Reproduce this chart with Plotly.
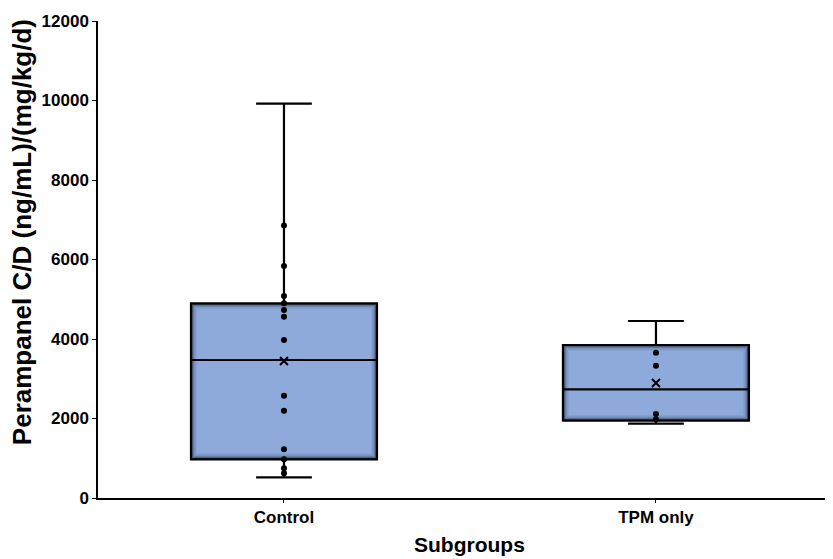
import plotly.graph_objects as go

# ---- data ----
groups = ["Control", "TPM only"]
q1 = [973, 1945]
median = [3472, 2734]
q3 = [4898, 3849]
lower_whisker = [520, 1869]
upper_whisker = [9920, 4453]
means = [3447, 2893]

control_points = [6855, 5836, 5082, 4898, 4730, 4562, 3975, 2574, 2197, 1225, 973, 747, 621]
tpm_points = [3655, 3328, 2113, 1980]

y_ticks = [0, 2000, 4000, 6000, 8000, 10000, 12000]

FONT = "Liberation Sans, Arial, sans-serif"
Y_MAX = 12000
X_RANGE = [-0.5, 1.476]
PLOT_H = 477
PLOT_W = 735
BOX_W = 0.5

fig = go.Figure()

# inner-shadow effect: stacked fills, inset pixel by pixel
dy = Y_MAX / PLOT_H
dx = (X_RANGE[1] - X_RANGE[0]) / PLOT_W
shade = ["#2c3547", "#4a5b78", "#637b9f", "#7690bb", "#8299c7", "#889fd0", "#8eaadb"]
for k, col in enumerate(shade):
    inset = k * 1.0
    fig.add_trace(go.Box(
        x=groups,
        q1=[v + inset * dy for v in q1],
        q3=[v - inset * dy for v in q3],
        median=median,
        lowerfence=[v + inset * dy for v in q1],
        upperfence=[v - inset * dy for v in q3],
        boxpoints=False,
        fillcolor=col,
        line=dict(color="rgba(0,0,0,0)", width=0),
        width=BOX_W - 2 * inset * dx,
        whiskerwidth=0,
        showlegend=False,
        hoverinfo="skip",
    ))

fig.add_trace(go.Box(
    x=groups,
    q1=q1, median=median, q3=q3,
    lowerfence=lower_whisker, upperfence=upper_whisker,
    boxpoints=False,
    fillcolor="rgba(0,0,0,0)",
    line=dict(color="black", width=2.2),
    width=BOX_W,
    whiskerwidth=0.3,
    showlegend=False,
    hoverinfo="skip",
))

fig.add_trace(go.Scatter(
    x=[groups[0]] * len(control_points) + [groups[1]] * len(tpm_points),
    y=control_points + tpm_points,
    mode="markers",
    marker=dict(color="black", size=6),
    showlegend=False,
))

fig.add_trace(go.Scatter(
    x=groups, y=means,
    mode="markers",
    marker=dict(color="black", size=8, symbol="x-thin", line=dict(color="black", width=2)),
    showlegend=False,
))

fig.update_layout(
    width=825, height=551,
    margin=dict(l=90, r=0, t=13, b=61),
    plot_bgcolor="white", paper_bgcolor="white",
    font=dict(family=FONT, color="black"),
    boxmode="overlay",
    xaxis=dict(
        type="category", range=X_RANGE, automargin=False,
        showline=True, linecolor="black", linewidth=1.5,
        ticks="outside", ticklen=3, tickcolor="black",
        tickfont=dict(size=17, family=FONT, weight="bold"),
        showgrid=False, zeroline=False,
    ),
    yaxis=dict(
        range=[0, Y_MAX], tickvals=y_ticks, tickformat="d", automargin=False,
        showline=True, linecolor="black", linewidth=1.5,
        ticks="outside", ticklen=4, tickcolor="black",
        tickfont=dict(size=17, family=FONT, weight="bold"),
        showgrid=False, zeroline=False,
    ),
    annotations=[
        dict(text="Perampanel C/D (ng/mL)/(mg/kg/d)", textangle=-90,
             xref="paper", yref="paper", x=-0.103, y=0.558,
             xanchor="center", yanchor="middle", showarrow=False,
             font=dict(size=26, family=FONT, weight="bold")),
        dict(text="Subgroups",
             xref="paper", yref="paper", x=0.506, y=-0.097,
             xanchor="center", yanchor="middle", showarrow=False,
             font=dict(size=21, family=FONT, weight="bold")),
    ],
)

fig.write_html("out.html")
